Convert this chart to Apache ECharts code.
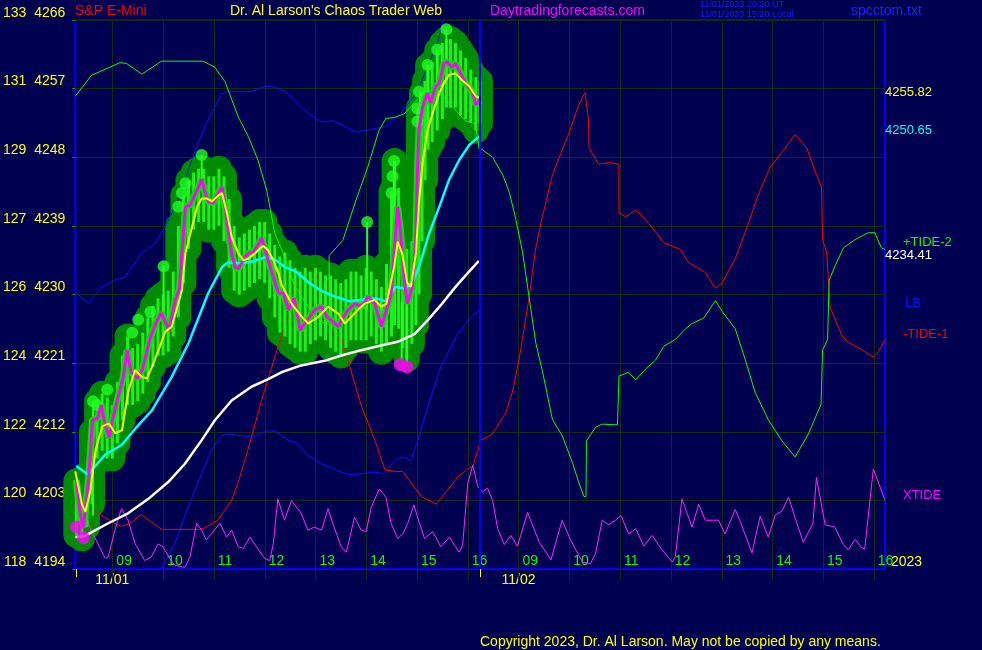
<!DOCTYPE html>
<html><head><meta charset="utf-8">
<script src="https://cdn.jsdelivr.net/npm/echarts@6/dist/echarts.min.js"></script>
<style>html,body{margin:0;padding:0;background:#000050;}#c{width:982px;height:650px;}</style>
</head><body><div id="c"></div>
<script>
// ---------- axes / labels ----------
const yTicks = [4194,4203,4212,4221,4230,4239,4248,4257,4266];
const yLeftNums = ['118','120','122','124','126','127','129','131','133'];
const hourTicks = [9,10,11,12,13,14,15,16,17,18,19,20,21,22,23,24];
const hourLabels = ['09','10','11','12','13','14','15','16','09','10','11','12','13','14','15','16'];
const dayStarts = [8.29, 16.25];
const dateLabelPos = [9.0, 17.0];
const dateLabels = ['11/01','11/02'];
const dayBoundary = [16.25];
const xMin = 8.27, xMax = 24.22;

// ---------- series (x = session hour, day 2 shifted by +8) ----------
const tide2 = [[8.27,4256.0],[8.59,4258.75],[9.15,4260.4],[9.28,4260.3],[9.58,4258.9],[9.97,4260.6],[10.79,4260.6],[11.02,4259.8],[11.22,4257.9],[11.48,4253.3],[11.68,4250.7],[11.87,4247.6],[12.04,4243.7],[12.2,4238.0],[12.36,4235.5],[12.6,4231.0],[12.9,4228.0],[13.15,4226.3],[13.27,4226.5],[13.27,4235.1],[13.54,4237.1],[13.80,4242.4],[14.03,4246.7],[14.25,4251.5],[14.39,4253.1],[14.55,4253.2],[14.75,4253.7],[15.0,4255.5],[15.24,4256.8],[15.46,4256.3],[15.76,4254.2],[15.95,4252.8],[16.15,4252.4],[16.23,4248.9],
[16.29,4249.0],[16.49,4248.0],[16.69,4245.7],[16.82,4243.4],[16.95,4239.8],[17.08,4235.6],[17.21,4229.6],[17.34,4223.7],[17.47,4220.0],[17.67,4213.6],[17.86,4211.5],[18.06,4208.0],[18.19,4205.3],[18.29,4203.5],[18.33,4203.5],[18.34,4210.8],[18.52,4212.6],[18.65,4213.0],[18.95,4212.9],[18.98,4219.3],[19.17,4219.8],[19.31,4218.8],[19.50,4220.2],[19.70,4221.4],[19.86,4223.2],[20.09,4224.1],[20.29,4225.5],[20.42,4226.2],[20.65,4226.9],[20.88,4229.2],[21.01,4227.8],[21.27,4225.5],[21.47,4221.4],[21.66,4217.2],[21.92,4213.6],[22.19,4210.8],[22.45,4208.7],[22.71,4211.7],[22.96,4215.6],[22.99,4222.7],[23.09,4224.1],[23.12,4231.9],[23.24,4233.8],[23.40,4236.1],[23.63,4237.2],[23.89,4238.1],[24.02,4238.1],[24.15,4236.1],[24.22,4235.9]];

const tide1 = [[8.29,4203.7],[8.58,4202.0],[8.84,4200.8],[9.04,4200.0],[9.18,4199.6],[9.33,4199.9],[9.57,4201.1],[9.97,4199.2],[10.76,4199.2],[11.08,4200.4],[11.35,4203.0],[11.48,4205.4],[11.67,4209.6],[11.94,4216.1],[12.20,4221.8],[12.46,4227.0],[12.63,4230.6],[12.78,4232.8],[12.91,4233.6],[13.07,4232.3],[13.27,4231.5],[13.29,4225.0],[13.52,4224.0],[13.64,4221.4],[13.91,4215.3],[14.17,4210.9],[14.37,4207.0],[14.56,4206.8],[14.72,4206.8],[15.09,4203.5],[15.38,4202.5],[15.81,4206.1],[16.01,4207.2],[16.10,4207.4],[16.26,4210.9],
[16.49,4211.7],[16.75,4214.5],[16.88,4217.2],[17.01,4221.4],[17.21,4229.6],[17.34,4236.1],[17.47,4240.2],[17.67,4245.7],[18.00,4251.3],[18.19,4254.9],[18.31,4256.5],[18.38,4252.9],[18.39,4249.2],[18.58,4247.1],[18.78,4247.3],[18.98,4247.1],[18.98,4240.7],[19.11,4240.2],[19.32,4241.1],[19.57,4239.3],[19.86,4236.8],[20.19,4235.9],[20.35,4234.2],[20.68,4232.9],[20.88,4230.8],[21.01,4231.5],[21.27,4234.7],[21.53,4239.3],[21.70,4242.7],[21.96,4246.7],[22.25,4249.2],[22.45,4251.0],[22.68,4249.2],[22.84,4246.2],[22.97,4244.1],[22.99,4237.2],[23.07,4235.6],[23.14,4228.3],[23.37,4224.6],[23.50,4223.7],[23.70,4223.0],[23.99,4221.8],[24.09,4222.5],[24.22,4224.1]];

const lbUpper = [[8.27,4230.3],[8.53,4228.9],[8.79,4231.0],[9.05,4231.9],[9.25,4232.3],[9.58,4235.4],[9.84,4236.7],[10.04,4238.9],[10.30,4242.4],[10.56,4247.6],[10.82,4252.0],[11.15,4256.3],[11.28,4256.7],[11.48,4256.6],[11.74,4256.6],[12.00,4257.3],[12.20,4257.2],[12.40,4256.6],[12.56,4255.7],[12.75,4254.4],[12.95,4253.3],[13.14,4252.6],[13.34,4252.8],[13.54,4252.2],[13.80,4251.3],[14.06,4251.6],[14.19,4251.8],[14.39,4252.0],[14.55,4253.1],[14.68,4253.7],[15.0,4256.5],[15.25,4260.5],[15.40,4262.9],[15.50,4265.5],[15.56,4267.5]];

const lbLower = [[9.80,4191.0],[9.97,4194.1],[10.23,4197.3],[10.49,4202.1],[10.76,4206.5],[10.95,4209.6],[11.15,4211.5],[11.31,4211.7],[11.74,4211.3],[12.03,4212.1],[12.20,4212.1],[12.46,4210.9],[12.66,4210.4],[12.85,4208.9],[13.12,4207.8],[13.44,4206.9],[13.64,4206.4],[13.90,4206.5],[14.16,4206.7],[14.33,4206.5],[14.56,4208.2],[14.72,4208.7],[14.88,4208.2],[15.02,4210.9],[15.21,4215.2],[15.47,4220.5],[15.80,4224.8],[16.06,4227.0],[16.25,4228.1]];

const xtide = [[8.29,4205.0],[8.45,4201.5],[8.58,4199.1],[8.71,4197.4],[8.86,4195.4],[8.92,4195.6],[9.05,4199.1],[9.18,4201.9],[9.31,4200.4],[9.45,4197.3],[9.64,4195.1],[9.77,4195.6],[9.90,4197.3],[10.00,4196.9],[10.13,4195.4],[10.23,4194.5],[10.43,4194.2],[10.53,4195.6],[10.66,4200.0],[10.76,4199.1],[10.85,4197.8],[10.95,4198.6],[11.12,4200.0],[11.25,4198.2],[11.35,4199.1],[11.48,4196.9],[11.58,4196.7],[11.71,4198.2],[11.84,4196.9],[12.00,4195.4],[12.10,4195.1],[12.17,4197.3],[12.26,4203.2],[12.39,4200.4],[12.53,4203.0],[12.72,4201.3],[12.85,4199.1],[12.98,4199.5],[13.12,4199.1],[13.25,4201.9],[13.34,4200.0],[13.51,4196.9],[13.61,4196.2],[13.77,4200.8],[13.90,4199.1],[14.00,4198.9],[14.10,4202.1],[14.26,4204.5],[14.39,4203.4],[14.49,4200.0],[14.62,4198.0],[14.72,4198.6],[14.82,4200.0],[14.94,4202.4],[15.05,4200.0],[15.15,4198.0],[15.31,4198.9],[15.47,4196.9],[15.64,4198.2],[15.74,4197.1],[15.83,4196.2],[15.90,4197.1],[16.00,4205.2],[16.10,4207.6],[16.20,4204.8],
[16.29,4204.1],[16.39,4204.6],[16.49,4203.0],[16.59,4199.3],[16.72,4197.2],[16.85,4198.4],[16.98,4197.0],[17.18,4201.4],[17.41,4197.5],[17.64,4195.2],[17.86,4200.4],[18.02,4197.9],[18.26,4194.9],[18.42,4194.7],[18.52,4196.1],[18.65,4200.4],[18.78,4199.8],[18.91,4200.4],[19.02,4201.0],[19.17,4198.6],[19.31,4199.3],[19.47,4197.0],[19.63,4198.4],[19.83,4196.5],[20.03,4194.9],[20.09,4195.6],[20.22,4203.2],[20.42,4199.5],[20.55,4202.5],[20.68,4200.4],[20.94,4200.4],[21.07,4198.6],[21.27,4201.8],[21.37,4200.2],[21.60,4196.1],[21.76,4200.9],[21.92,4198.2],[22.06,4201.1],[22.19,4201.6],[22.32,4203.4],[22.45,4200.7],[22.61,4197.5],[22.80,4200.0],[22.87,4206.0],[23.04,4199.8],[23.23,4199.5],[23.40,4197.2],[23.50,4196.5],[23.63,4197.9],[23.76,4196.8],[23.82,4196.6],[23.99,4207.1],[24.12,4204.8],[24.22,4203.0]];

const slowAvg = [[8.27,4198.2],[8.45,4198.3],[8.92,4200.0],[9.31,4201.3],[9.71,4203.2],[10.10,4205.4],[10.43,4207.8],[10.76,4210.9],[11.02,4213.5],[11.35,4216.1],[11.74,4217.9],[12.07,4218.9],[12.33,4219.8],[12.72,4220.7],[13.18,4221.3],[13.51,4222.0],[13.90,4222.7],[14.29,4223.3],[14.62,4223.8],[14.95,4224.8],[15.21,4226.6],[15.47,4228.6],[15.76,4231.0],[16.0,4232.8],[16.22,4234.4]];

const fastAvg = [[8.29,4207.5],[8.52,4206.4],[8.86,4209.0],[9.19,4210.3],[9.45,4212.4],[9.78,4214.8],[10.17,4219.2],[10.50,4223.6],[10.76,4228.0],[10.89,4230.2],[11.16,4233.6],[11.28,4234.2],[11.55,4234.1],[11.81,4234.4],[12.01,4234.9],[12.20,4234.6],[12.40,4233.6],[12.62,4233.0],[12.88,4231.5],[13.14,4230.4],[13.40,4229.7],[13.67,4229.1],[13.93,4229.3],[14.19,4229.5],[14.39,4229.1],[14.58,4231.0],[14.75,4230.8],[14.91,4231.5],[15.04,4233.6],[15.24,4238.0],[15.44,4241.5],[15.63,4245.0],[15.83,4247.6],[16.03,4249.6],[16.22,4250.7]];

const smoothPrice = [[8.27,4206.8],[8.40,4202.5],[8.47,4201.5],[8.57,4204.4],[8.67,4209.6],[8.80,4212.7],[8.93,4213.1],[9.06,4211.8],[9.19,4212.2],[9.32,4217.5],[9.45,4220.1],[9.58,4219.2],[9.68,4219.0],[9.78,4220.5],[9.91,4222.7],[10.04,4225.1],[10.17,4225.8],[10.30,4228.8],[10.37,4230.6],[10.44,4235.4],[10.57,4238.9],[10.67,4241.5],[10.76,4242.6],[10.86,4242.6],[10.96,4242.2],[11.09,4243.0],[11.16,4243.3],[11.26,4240.6],[11.35,4237.6],[11.48,4235.4],[11.58,4234.5],[11.68,4234.7],[11.81,4235.4],[11.97,4236.4],[12.07,4235.8],[12.17,4234.5],[12.27,4232.8],[12.34,4231.2],[12.53,4228.8],[12.73,4227.1],[12.86,4226.2],[13.06,4227.1],[13.25,4228.4],[13.45,4227.5],[13.58,4226.2],[13.71,4227.1],[13.84,4228.0],[13.97,4228.8],[14.17,4229.3],[14.30,4228.4],[14.40,4228.8],[14.55,4233.6],[14.62,4236.9],[14.71,4235.4],[14.81,4231.5],[14.88,4231.0],[14.98,4235.4],[15.04,4242.0],[15.11,4247.2],[15.21,4251.6],[15.31,4253.8],[15.44,4256.4],[15.53,4257.7],[15.63,4258.8],[15.76,4259.0],[15.89,4258.1],[16.03,4257.3],[16.16,4256.0],[16.24,4255.8]];

const closePrice = [[8.29,4205.7],[8.37,4201.1],[8.43,4199.5],[8.53,4205.7],[8.61,4213.5],[8.71,4213.8],[8.78,4215.5],[8.86,4212.9],[8.94,4211.2],[9.00,4213.5],[9.10,4216.2],[9.22,4219.3],[9.29,4222.7],[9.37,4219.8],[9.49,4219.0],[9.59,4220.1],[9.75,4224.4],[9.85,4226.1],[9.96,4227.6],[10.12,4225.3],[10.24,4229.3],[10.32,4230.6],[10.37,4235.4],[10.44,4241.5],[10.53,4241.7],[10.67,4243.7],[10.76,4245.1],[10.83,4243.3],[10.89,4242.2],[10.99,4242.0],[11.06,4243.0],[11.16,4244.1],[11.22,4241.5],[11.29,4238.0],[11.35,4235.4],[11.42,4233.6],[11.48,4233.4],[11.55,4234.1],[11.62,4235.0],[11.68,4235.4],[11.78,4235.6],[11.85,4236.3],[11.94,4237.4],[12.01,4235.8],[12.07,4234.5],[12.17,4232.3],[12.27,4230.2],[12.37,4230.2],[12.47,4228.0],[12.58,4229.5],[12.70,4225.3],[12.79,4226.2],[12.89,4227.1],[12.99,4228.0],[13.12,4228.4],[13.22,4227.1],[13.33,4226.5],[13.45,4225.8],[13.55,4227.1],[13.65,4228.0],[13.78,4228.8],[13.91,4228.4],[14.04,4229.7],[14.17,4228.8],[14.30,4225.8],[14.40,4228.0],[14.49,4230.0],[14.55,4235.4],[14.62,4241.5],[14.68,4238.0],[14.75,4231.9],[14.81,4228.8],[14.91,4231.0],[14.98,4237.6],[15.01,4246.3],[15.04,4251.6],[15.11,4254.6],[15.21,4256.4],[15.27,4255.1],[15.37,4257.3],[15.44,4257.7],[15.53,4260.3],[15.60,4260.5],[15.69,4259.8],[15.76,4260.3],[15.86,4259.0],[15.96,4257.7],[16.09,4256.6],[16.16,4254.9],[16.24,4255.5]];

// bar ranges [time, low, high]
const barRange = [[8.29,4198.5,4205.5],[8.40,4198.0,4202.5],[8.50,4199.5,4206.5],[8.60,4202.5,4212.0],[8.70,4208.5,4216.0],[8.80,4209.5,4217.0],[8.90,4208.5,4216.5],[9.00,4208.5,4215.5],[9.10,4210.5,4218.5],[9.20,4213.5,4222.0],[9.30,4215.5,4224.5],[9.40,4215.5,4223.0],[9.50,4216.0,4223.5],[9.60,4217.0,4225.0],[9.70,4218.5,4227.0],[9.80,4220.5,4228.5],[9.90,4222.0,4229.5],[10.00,4222.0,4230.0],[10.10,4222.5,4230.5],[10.20,4224.5,4233.0],[10.30,4227.0,4239.0],[10.40,4231.5,4243.0],[10.50,4236.0,4245.0],[10.60,4238.5,4246.0],[10.70,4239.5,4246.5],[10.80,4239.5,4246.5],[10.90,4238.5,4245.5],[11.00,4238.5,4245.5],[11.10,4239.0,4246.5],[11.20,4237.0,4245.5],[11.30,4233.5,4242.5],[11.40,4230.5,4239.0],[11.50,4230.0,4237.5],[11.60,4230.5,4238.0],[11.70,4231.0,4238.5],[11.80,4231.5,4239.0],[11.90,4232.0,4239.5],[12.00,4231.5,4239.5],[12.10,4229.5,4238.0],[12.20,4227.0,4236.5],[12.30,4225.0,4235.0],[12.40,4224.5,4235.5],[12.50,4223.5,4234.5],[12.60,4223.0,4233.5],[12.70,4222.5,4233.0],[12.80,4222.5,4233.5],[12.90,4223.5,4233.0],[13.00,4224.0,4233.5],[13.10,4224.5,4233.0],[13.20,4224.0,4232.5],[13.30,4223.0,4232.5],[13.40,4222.5,4232.0],[13.50,4222.0,4231.5],[13.60,4223.0,4232.0],[13.70,4224.0,4233.0],[13.80,4224.0,4233.0],[13.90,4224.0,4232.5],[14.00,4224.0,4233.5],[14.10,4224.5,4233.0],[14.20,4223.5,4232.0],[14.30,4222.5,4231.0],[14.40,4223.5,4234.0],[14.50,4224.5,4243.5],[14.56,4226.0,4247.5],[14.64,4225.5,4244.0],[14.72,4223.0,4238.0],[14.80,4221.5,4236.0],[14.90,4223.5,4237.0],[14.98,4226.0,4247.0],[15.04,4230.0,4254.5],[15.10,4237.0,4256.5],[15.16,4245.0,4258.0],[15.22,4249.0,4260.0],[15.30,4250.0,4260.5],[15.40,4251.5,4262.0],[15.50,4253.0,4263.0],[15.58,4254.5,4263.5],[15.66,4254.5,4263.5],[15.76,4254.5,4263.0],[15.86,4253.5,4262.0],[15.96,4253.0,4261.0],[16.06,4252.5,4259.5],[16.16,4251.5,4258.5],[16.24,4252.5,4258.0]];

// spikes [time, base, top]
const spikes = [[8.62,4201.0,4216.0],[10.01,4226.5,4233.7],[10.76,4245.0,4248.3],[14.02,4228.0,4239.5],[14.50,4230.0,4243.3],[14.55,4232.0,4247.5],[15.01,4238.0,4254.4],[15.06,4245.0,4256.6],[15.21,4252.0,4260.1],[15.40,4255.0,4262.1],[15.58,4258.0,4264.8],[14.80,4221.0,4230.0],[14.70,4221.5,4229.0]];
const highDots = [[8.62,4216.0],[8.70,4215.5],[8.90,4217.5],[9.39,4225.0],[9.51,4226.7],[9.75,4227.7],[10.01,4233.7],[10.30,4241.5],[10.37,4243.3],[10.44,4244.6],[10.76,4248.3],[14.02,4239.5],[14.50,4243.3],[14.52,4245.5],[14.55,4247.5],[15.01,4252.7],[15.01,4254.4],[15.04,4256.6],[15.21,4260.1],[15.40,4262.1],[15.58,4264.8]];
const lowDots = [[8.29,4199.5],[8.43,4198.1],[14.67,4220.8],[14.80,4220.5]];

// right side readouts
const lastSmooth = '4255.82', lastFast = '4250.65', lastSlow = '4234.41';

const FONT = 'Liberation Sans, Arial, sans-serif';
const GRID_COLOR = '#112e11';
const chart = echarts.init(document.getElementById('c'));

function vline(color, width, extra) {
  return (params, api) => {
    const cs = params.coordSys;
    const x = Math.round(api.coord([api.value(0), yTicks[0]])[0]) + (width % 2 ? 0.5 : 0);
    return {type:'line', shape:{x1:x, y1:cs.y, x2:x, y2:cs.y + cs.height + extra},
      style:{stroke:color, lineWidth:width}};
  };
}
function rangeLine(color, width, cap) {
  return (params, api) => {
    const a = api.coord([api.value(0), api.value(1)]);
    const b = api.coord([api.value(0), api.value(2)]);
    return {type:'line', shape:{x1:a[0], y1:a[1], x2:b[0], y2:b[1]},
      style:{stroke:color, lineWidth:width, lineCap:cap}};
  };
}
function lineSeries(data, color, width, z) {
  return {type:'line', data, showSymbol:false, symbol:'none', smooth:false, z,
    lineStyle:{color, width}, animation:false, silent:true};
}
function txt(text, left, top, color, size) {
  return {text, left, top, padding:0, textStyle:{color, fontSize:size, fontWeight:'normal', fontFamily:FONT}};
}

chart.setOption({
  backgroundColor:'#000050',
  animation:false,
  title:[
    txt('S&P E-Mini', 75, 4, '#ff0000', 14),
    txt("Dr. Al Larson's Chaos Trader Web", 230, 4, '#ffff00', 14),
    txt('Daytradingforecasts.com', 490, 4, '#ff00ff', 14),
    txt('11/01/2023 20:20 UT', 700, 0, '#1c1cff', 9),
    txt('11/01/2023 15:20 Local', 700, 10, '#1c1cff', 9),
    txt('spcctom.txt', 851, 4, '#2020ff', 14),
    txt(lastSmooth, 885, 86, '#ffff00', 13),
    txt(lastFast, 885, 124, '#00ffff', 13),
    txt('+TIDE-2', 903, 236, '#00ff00', 13),
    txt(lastSlow, 885, 249, '#ffffff', 13),
    txt('LB', 905, 297, '#1010ff', 13),
    txt('-TIDE-1', 903, 328, '#ff0000', 13),
    txt('XTIDE', 903, 489, '#ff00ff', 13),
    txt('2023', 891, 555, '#ffff00', 14),
    txt('Copyright 2023, Dr. Al Larson. May not be copied by any means.', 480, 635, '#ffff00', 14)
  ],
  grid:{left:74, top:20, width:811, height:549, show:true, backgroundColor:'#000050', borderColor:'#0000ff', borderWidth:2},
  xAxis:[
    {type:'value', min:xMin, max:xMax, position:'bottom',
      axisLine:{show:false}, splitLine:{show:false}, axisTick:{show:false},
      axisLabel:{inside:true, customValues:hourTicks, margin:1, align:'left', padding:[0,0,0,4],
        color:'#00ff00', fontSize:14, fontFamily:FONT,
        formatter:v => hourLabels[hourTicks.indexOf(Math.round(v))] || ''}},
    {type:'value', min:xMin, max:xMax, position:'bottom',
      axisLine:{show:false}, splitLine:{show:false},
      axisTick:{show:true, customValues:dayStarts, length:8, lineStyle:{color:'#ffff00', width:1}},
      axisLabel:{customValues:dateLabelPos, margin:4, color:'#ffff00', fontSize:14, fontFamily:FONT,
        formatter:v => dateLabels[dateLabelPos.indexOf(v)] || ''}}
  ],
  yAxis:{type:'value', min:4194, max:4266, interval:9,
    axisLine:{show:false},
    axisTick:{show:true, length:3, lineStyle:{color:'#00b000'}},
    splitLine:{show:true, lineStyle:{color:GRID_COLOR, width:1}},
    axisLabel:{margin:10, color:'#ffff00', fontSize:14, fontFamily:FONT, verticalAlign:'bottom',
      formatter:v => (yLeftNums[yTicks.indexOf(v)] || '') + '  ' + v}},
  series:[
    {type:'custom', z:1, silent:true, xAxisIndex:0, data:hourTicks.map(h => [h]), encode:{x:0},
      renderItem:vline(GRID_COLOR, 1, 11)},
    {type:'custom', z:3, silent:true, data:barRange, encode:{x:0, y:[1,2]},
      renderItem:rangeLine('#008c00', 26, 'round')},
    lineSeries(lbUpper, '#1010ff', 1, 4),
    lineSeries(lbLower, '#1010ff', 1, 4),
    lineSeries(tide1, '#ff0000', 1, 4),
    lineSeries(tide2, '#00ff00', 1, 4),
    lineSeries(xtide, '#ff22ff', 1, 4),
    lineSeries(slowAvg, '#ffffff', 2.5, 5),
    lineSeries(closePrice, '#00e600', 7, 5),
    {type:'custom', z:5, silent:true, data:barRange, encode:{x:0, y:[1,2]},
      renderItem:rangeLine('#1ef01e', 3, 'butt')},
    {type:'custom', z:5, silent:true, data:spikes, encode:{x:0, y:[1,2]},
      renderItem:rangeLine('#22ff22', 2, 'butt')},
    {type:'scatter', z:6, silent:true, data:highDots, symbol:'circle', symbolSize:12,
      itemStyle:{color:'#22ff22'}},
    lineSeries(fastAvg, '#00ffff', 2.5, 7),
    lineSeries(closePrice, '#ff00ff', 3, 8),
    lineSeries(smoothPrice, '#ffff00', 2, 9),
    {type:'scatter', z:9, silent:true, data:lowDots, symbol:'circle', symbolSize:13,
      itemStyle:{color:'#ff00ff'}},
    {type:'custom', z:10, silent:true, data:dayBoundary.map(h => [h]), encode:{x:0},
      renderItem:vline('#0000ff', 2, 0)}
  ]
});
</script>
</body></html>
